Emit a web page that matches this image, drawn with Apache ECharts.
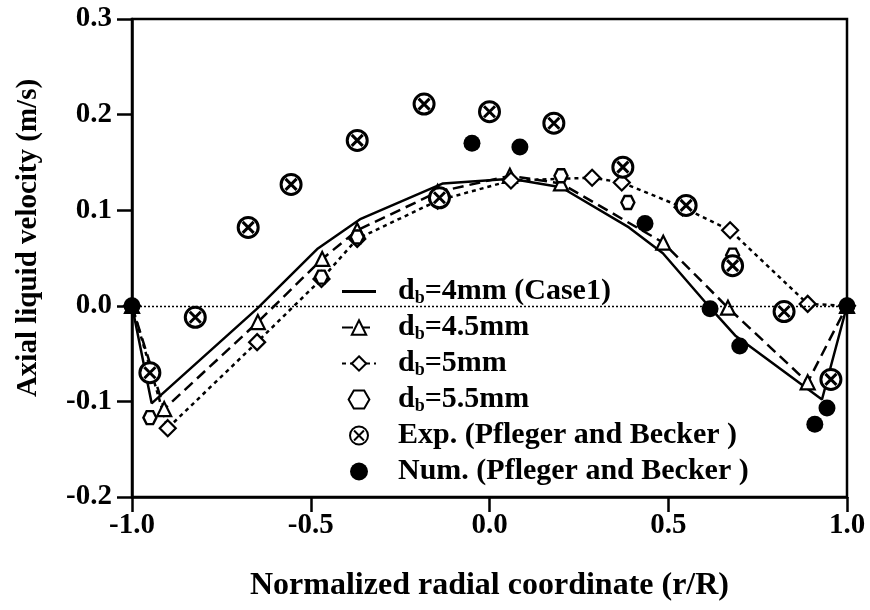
<!DOCTYPE html>
<html>
<head>
<meta charset="utf-8">
<script src="https://cdn.jsdelivr.net/npm/echarts@6/dist/echarts.min.js"></script>
<style>html,body{margin:0;padding:0;background:#fff;}#c{width:870px;height:610px;}</style>
</head>
<body>
<div id="c"></div>
<script>
// ---- data ----
var xTicks = [-1.0, -0.5, 0.0, 0.5, 1.0];
var yTicks = [-0.2, -0.1, 0.0, 0.1, 0.2, 0.3];

var names = ['db=4mm (Case1)', 'db=4.5mm', 'db=5mm', 'db=5.5mm', 'Exp. (Pfleger and Becker )', 'Num. (Pfleger and Becker )'];

var x4 = [-1, -0.945, -0.65, -0.48, -0.36, -0.13, 0.06, 0.2, 0.39, 0.485, 0.617, 0.687, 0.93, 1];
var y4 = [0, -0.102, -0.003, 0.06, 0.091, 0.128, 0.133, 0.124, 0.082, 0.055, -0.002, -0.031, -0.098, 0];

var x45 = [-1, -0.91, -0.648, -0.468, -0.37, -0.145, 0.057, 0.2, 0.486, 0.667, 0.89, 1];
var y45 = [0, -0.108, -0.017, 0.049, 0.079, 0.119, 0.136, 0.128, 0.066, -0.002, -0.08, 0];

var x5 = [-1, -0.9, -0.65, -0.47, -0.37, -0.145, 0.06, 0.287, 0.37, 0.54, 0.673, 0.89, 1];
var y5 = [0, -0.128, -0.038, 0.028, 0.07, 0.11, 0.131, 0.134, 0.129, 0.103, 0.079, 0.002, 0];

var x55 = [-0.95, -0.47, -0.37, -0.13, 0.2, 0.387, 0.68];
var y55 = [-0.117, 0.03, 0.072, 0.115, 0.136, 0.108, 0.053];

var xExp = [-0.95, -0.823, -0.675, -0.555, -0.37, -0.183, -0.14, 0.0, 0.18, 0.373, 0.55, 0.68, 0.824, 0.955];
var yExp = [-0.07, -0.012, 0.082, 0.127, 0.173, 0.211, 0.113, 0.203, 0.191, 0.145, 0.105, 0.042, -0.006, -0.077];

var xNum = [-1, -0.049, 0.085, 0.435, 0.617, 0.7, 0.91, 0.944, 1];
var yNum = [0, 0.17, 0.166, 0.086, -0.003, -0.042, -0.124, -0.107, 0];

function pairs(xs, ys) { return xs.map(function (x, i) { return [x, ys[i]]; }); }

var FONT = '"Liberation Serif", "Times New Roman", serif';
var otimes = 'path://M10,0 A10,10 0 1,1 10,20 A10,10 0 1,1 10,0 Z M4.5,4.5 L15.5,15.5 M15.5,4.5 L4.5,15.5';
var hexagon = 'path://M5,0 L15,0 L20,8.66 L15,17.32 L5,17.32 L0,8.66 Z';
var solidIcon = 'path://M0,0 L32,0 L32,2.6 L0,2.6 Z';

var legendData = names.map(function (n, i) { return i === 0 ? { name: n, icon: solidIcon } : { name: n }; });

var chart = echarts.init(document.getElementById('c'));
chart.setOption({
  animation: false,
  backgroundColor: '#fff',
  grid: { left: 132, right: 23, top: 19, bottom: 113, show: true, borderColor: '#000', borderWidth: 2.5, containLabel: false },
  xAxis: {
    type: 'value', min: -1, max: 1, interval: 0.5,
    name: 'Normalized radial coordinate (r/R)', nameLocation: 'middle', nameGap: 73,
    nameTextStyle: { fontFamily: FONT, fontWeight: 'bold', fontSize: 32, color: '#000' },
    axisLine: { show: true, onZero: false, lineStyle: { color: '#000', width: 2.5 } },
    axisTick: { show: true, inside: false, length: 15, lineStyle: { color: '#000', width: 2.5 } },
    splitLine: { show: false },
    axisLabel: { margin: 14, fontFamily: FONT, fontWeight: 'bold', fontSize: 29, color: '#000',
      formatter: function (v) { return v.toFixed(1); } }
  },
  yAxis: {
    type: 'value', min: -0.2, max: 0.3, interval: 0.1,
    name: 'Axial liquid velocity (m/s)', nameLocation: 'middle', nameGap: 89,
    nameTextStyle: { fontFamily: FONT, fontWeight: 'bold', fontSize: 29, color: '#000', padding: [0, 0, 0, 40] },
    axisLine: { show: true, onZero: false, lineStyle: { color: '#000', width: 2.5 } },
    axisTick: { show: true, inside: false, length: 15, lineStyle: { color: '#000', width: 2.5 } },
    splitLine: { show: false },
    axisLabel: { margin: 20, fontFamily: FONT, fontWeight: 'bold', fontSize: 29, color: '#000',
      formatter: function (v) { return v.toFixed(1); } }
  },
  legend: {
    orient: 'vertical', left: 336, top: 271, itemGap: 5, itemWidth: 34, itemHeight: 18,
    data: legendData,
    formatter: function (n) { return n.indexOf('db') === 0 ? '{n|d}{s|b}{n|' + n.slice(2) + '}' : '{n|' + n + '}'; },
    textStyle: { fontFamily: FONT, fontWeight: 'bold', fontSize: 30, color: '#000', padding: [0, 0, 0, 17], lineHeight: 31,
      rich: {
        n: { fontFamily: FONT, fontWeight: 'bold', fontSize: 30, color: '#000', lineHeight: 31, verticalAlign: 'middle' },
        s: { fontFamily: FONT, fontWeight: 'bold', fontSize: 18, color: '#000', lineHeight: 15, verticalAlign: 'bottom' }
      } }
  },
  series: [
    { name: names[0], type: 'line', data: pairs(x4, y4), symbol: 'none', z: 3,
      lineStyle: { color: '#000', width: 2.5, type: 'solid' }, itemStyle: { color: '#000' },
      markLine: { silent: true, symbol: 'none', label: { show: false },
        lineStyle: { color: '#000', width: 1.3, type: [2, 2] }, data: [{ yAxis: 0 }] } },
    { name: names[1], type: 'line', data: pairs(x45, y45), symbol: 'triangle', symbolSize: 14, z: 4,
      lineStyle: { color: '#000', width: 2.5, type: [11, 6] },
      itemStyle: { color: '#fff', borderColor: '#000', borderWidth: 2.2, opacity: 1 } },
    { name: names[2], type: 'line', data: pairs(x5, y5), symbol: 'diamond', symbolSize: 16, z: 4,
      lineStyle: { color: '#000', width: 2.5, type: [4, 4] },
      itemStyle: { color: '#fff', borderColor: '#000', borderWidth: 2.2, opacity: 1 } },
    { name: names[3], type: 'scatter', data: pairs(x55, y55), symbol: hexagon, symbolSize: 13, z: 5,
      itemStyle: { color: '#fff', borderColor: '#000', borderWidth: 2.4, opacity: 1 } },
    { name: names[4], type: 'scatter', data: pairs(xExp, yExp), symbol: otimes, symbolSize: 20, z: 6,
      itemStyle: { color: '#fff', borderColor: '#000', borderWidth: 3, opacity: 1 } },
    { name: names[5], type: 'scatter', data: pairs(xNum, yNum), symbol: 'circle', symbolSize: 17, z: 6,
      itemStyle: { color: '#000', opacity: 1 } }
  ]
});
</script>
</body>
</html>
